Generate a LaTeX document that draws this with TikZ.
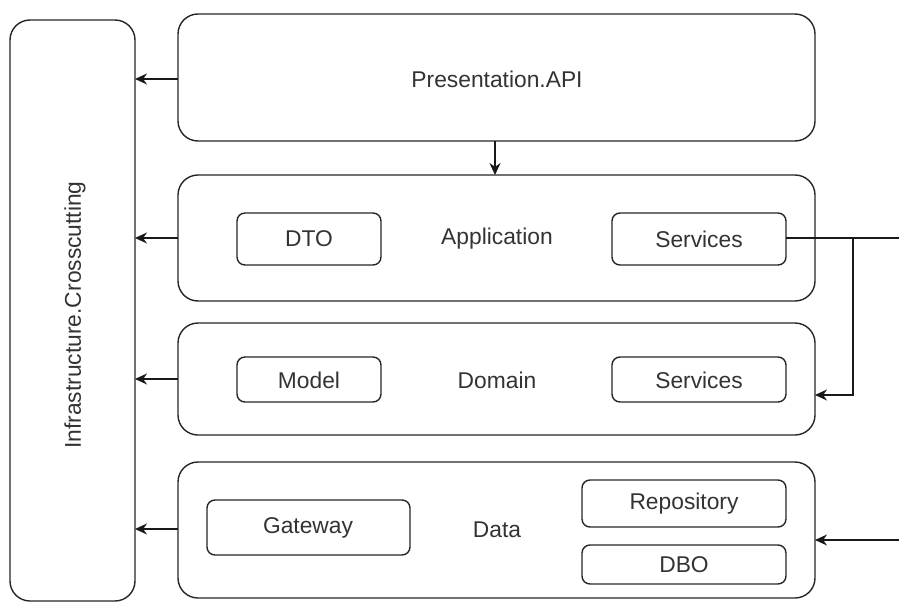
\documentclass[tikz,border=0pt]{standalone}
\usepackage{fontspec}
\setmainfont{Liberation Sans}
\usetikzlibrary{arrows.meta}
\begin{document}
\begin{tikzpicture}[x=1pt,y=-1pt,
  layer/.style={draw=black!85,line width=1.4pt,rounded corners=20pt},
  inner/.style={draw=black!85,line width=1.4pt,rounded corners=8pt},
  lbl/.style={font=\fontsize{22.8}{26}\selectfont,text=black!80,inner sep=0pt},
  conn/.style={draw=black!90,line width=1.4pt,-{Stealth[length=12pt,width=11pt]}}]
\useasboundingbox (0,0) rectangle (899,602);
% infrastructure
\draw[layer] (10,20) rectangle (135,601);
\node[lbl,rotate=90] (infra) at (75,315) {Infrastructure.Crosscutting};
% layers
\draw[layer] (178,14) rectangle (815,141);
\node[lbl] (pres) at (497,79) {Presentation.API};
\draw[layer] (178,175) rectangle (815,301);
\node[lbl] (app) at (497,239) {Application};
\draw[layer] (178,323) rectangle (815,435);
\node[lbl] (dom) at (497,380) {Domain};
\draw[layer] (178,462) rectangle (815,598);
\node[lbl] (data) at (497,530) {Data};
% inner boxes
\draw[inner] (237,213) rectangle (381,265);
\node[lbl] (dto) at (309,239) {DTO};
\draw[inner] (612,213) rectangle (786,265);
\node[lbl] (asrv) at (699,239) {Services};
\draw[inner] (237,357) rectangle (381,402);
\node[lbl] (model) at (309,380) {Model};
\draw[inner] (612,357) rectangle (786,402);
\node[lbl] (dsrv) at (699,380) {Services};
\draw[inner] (207,500) rectangle (410,555);
\node[lbl] (gw) at (308,528) {Gateway};
\draw[inner] (582,480) rectangle (786,527);
\node[lbl] (repo) at (684,504) {Repository};
\draw[inner] (582,545) rectangle (786,584);
\node[lbl] (dbo) at (684,565) {DBO};
% coordinates
\coordinate (presL) at (178,79);
\coordinate (presB) at (495,141);
\coordinate (appT) at (495,175);
\coordinate (appL) at (178,238);
\coordinate (domL) at (178,379);
\coordinate (dataL) at (178,529);
\coordinate (iP) at (135,79);
\coordinate (iA) at (135,238);
\coordinate (iD) at (135,379);
\coordinate (iE) at (135,529);
\coordinate (asrvR) at (786,238);
\coordinate (edgeA) at (899,238);
\coordinate (turn) at (853,238);
\coordinate (domR) at (815,395);
\coordinate (edgeD) at (899,540);
\coordinate (dataR) at (815,540);
% connectors
\draw[conn] (presL) -- (iP);
\draw[conn] (appL) -- (iA);
\draw[conn] (domL) -- (iD);
\draw[conn] (dataL) -- (iE);
\draw[conn] (presB) -- (appT);
\draw[draw=black!90,line width=1.4pt] (asrvR) -- (edgeA);
\draw[conn] (turn) |- (domR);
\draw[conn] (edgeD) -- (dataR);
\end{tikzpicture}
\end{document}
